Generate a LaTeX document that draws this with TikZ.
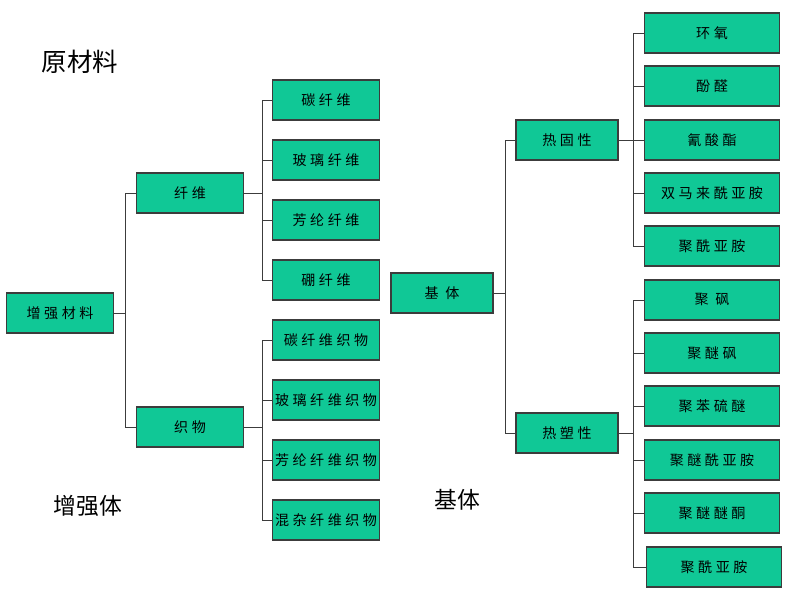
\documentclass[tikz,border=0pt]{standalone}
\usepackage{fontspec}
\usetikzlibrary{positioning}
\newfontfamily\cjk{Noto Sans CJK SC}
\newfontfamily\cjkbox[LetterSpace=25]{Noto Sans CJK SC}
\definecolor{boxgreen}{RGB}{16,200,150}
\definecolor{edgegray}{RGB}{60,60,60}
\tikzset{
  matbox/.style={draw=edgegray,fill=boxgreen,line width=0.8pt,minimum width=2.14cm,
    minimum height=0.8cm,inner sep=0pt,font=\cjkbox\fontsize{8}{10}\selectfont},
  widebox/.style={matbox,minimum width=2.7cm},
  link/.style={draw=edgegray,line width=0.5pt},
  caption/.style={font=\cjk\fontsize{13}{15}\selectfont}
}
\begin{document}
\begin{tikzpicture}[x=0.02cm,y=-0.02cm]
  \useasboundingbox (0,0) rectangle (800,600);
  % reinforcement side
  \node[matbox] (reinf) at (60,313) {增强材料};
  \node[matbox] (fiber) at (190,193) {纤维};
  \node[matbox] (fabric) at (190,427) {织物};
  \foreach \t [count=\i] in {碳纤维,玻璃纤维,芳纶纤维,硼纤维}
    \node[matbox] (f\i) at (326,40+60*\i) {\t};
  \foreach \t [count=\i] in {碳纤维织物,玻璃纤维织物,芳纶纤维织物,混杂纤维织物}
    \node[matbox] (w\i) at (326,280+60*\i) {\t};
  \draw[link] (reinf.east) -- ++(11,0) |- (fiber.west);
  \draw[link] (reinf.east) -- ++(11,0) |- (fabric.west);
  \foreach \i in {1,...,4} {
    \draw[link] (fiber.east) -- ++(18,0) |- (f\i.west);
    \draw[link] (fabric.east) -- ++(18,0) |- (w\i.west);
  }
  % matrix side
  \node[matbox,minimum width=2.04cm] (base) at (442,293) {基\ 体};
  \node[matbox,minimum width=2.04cm] (tset) at (567,140) {热固性};
  \node[matbox,minimum width=2.04cm] (tplast) at (567,433) {热塑性};
  \foreach \t/\y [count=\i] in {环氧/33,酚醛/86,氰酸酯/140,双马来酰亚胺/193,聚酰亚胺/246}
    \node[widebox] (s\i) at (712,\y) {\t};
  \foreach \t/\y [count=\i] in {聚\ 砜/300,聚醚砜/353,聚苯硫醚/406,聚醚酰亚胺/460,聚醚醚酮/513}
    \node[widebox] (p\i) at (712,\y) {\t};
  \node[widebox] (p6) at (714,567) {聚酰亚胺};
  \draw[link] (base.east) -- ++(12,0) |- (tset.west);
  \draw[link] (base.east) -- ++(12,0) |- (tplast.west);
  \foreach \i in {1,...,5}
    \draw[link] (tset.east) -- ++(15,0) |- (s\i.west);
  \foreach \i in {1,...,6}
    \draw[link] (tplast.east) -- ++(15,0) |- (p\i.west);
  % captions
  \node[caption,font=\cjk\fontsize{14.5}{16}\selectfont] (rawlbl) at (80,62) {原材料};
  \node[caption] (reinflbl) at (88,506) {增强体};
  \node[caption] (baselbl) at (457,500) {基体};
\end{tikzpicture}
\end{document}
